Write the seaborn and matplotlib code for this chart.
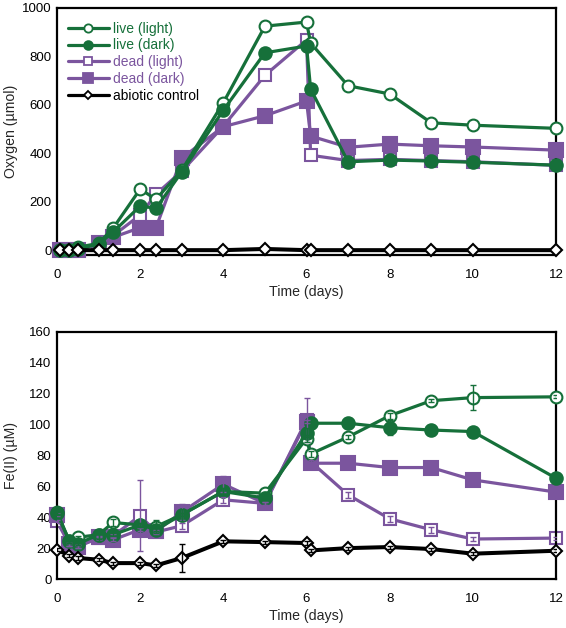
import numpy as np
import pandas as pd
import matplotlib
matplotlib.use("Agg")
import matplotlib.pyplot as plt
import seaborn as sns
from matplotlib.lines import Line2D

# ---------------- data ----------------
t_oxy = [0.07, 0.3, 0.5, 1, 1.35, 2, 2.38, 3, 4, 5, 6, 6.1, 7, 8, 9, 10, 12]
live_light_oxy = [0, 2, 12, 28, 91, 252, 210, 330, 609, 925, 942, 855, 679, 645, 526, 516, 503]
live_dark_oxy = [0, 0, 5, 25, 75, 182, 173, 323, 578, 815, 843, 665, 365, 372, 368, 363, 351]
dead_light_oxy = [0, 0, 0, 28, 60, 145, 231, 326, 512, 722, 868, 392, 370, 375, 370, 365, 350]
dead_dark_oxy = [0, 0, 0, 28, 53, 93, 93, 380, 510, 555, 616, 471, 425, 438, 431, 426, 413]
abiotic_oxy = [0, 0, 0, 0, 0, 0, 0, 0, 0, 5, 0, 0, 0, 0, 0, 0, 0]

t_fe = [0, 0.3, 0.5, 1, 1.35, 2, 2.38, 3, 4, 5, 6, 6.1, 7, 8, 9, 10, 12]
live_light_fe = [43.3, 24.4, 27, 28.7, 36.6, 35, 34, 41.6, 56.7, 55.6, 91, 81, 92, 105.8, 115.5, 117.5, 118]
live_dark_fe = [42.7, 24.4, 22.8, 28.7, 28.7, 35, 32, 41.6, 56.7, 52.4, 94.8, 100.9, 100.9, 98, 96.5, 95.5, 65.3]
dead_light_fe = [37.3, 22.2, 21, 26.5, 28, 41, 30.4, 34.5, 51.3, 49, 103, 76, 54.5, 39, 31.9, 25.9, 26.5]
dead_dark_fe = [41.6, 22.6, 21, 27, 25.4, 32, 30.8, 43.3, 61.4, 49, 102, 75, 75, 72.2, 72.2, 64.2, 56.3]
abiotic_fe = [19, 15.1, 13.6, 12.5, 10.3, 10.3, 8.8, 13.6, 24.4, 23.9, 23.3, 18.5, 20, 20.7, 19.4, 16.4, 18.3]

live_light_fe_err = [1, 1, 1, 4, 2, 1, 4, 1, 2, 1, 2, 2, 1, 2, 1, 8, 1]
live_dark_fe_err = [1, 1, 1, 3, 1, 1, 1, 4, 2, 1, 3, 1, 1, 5, 3, 1, 1]
dead_light_fe_err = [1, 1, 1, 1, 1, 23, 1, 2, 2, 1, 14, 1, 2, 2, 2, 1, 1]
dead_dark_fe_err = [1, 1, 1, 1, 1, 1, 1, 5, 5, 1, 1, 1, 1, 1, 1, 1, 1]
abiotic_fe_err = [1, 1, 1, 1, 1, 1, 1, 9, 1, 1, 1, 1, 1, 1, 1, 1, 1]

labels = ["live (light)", "live (dark)", "dead (light)", "dead (dark)", "abiotic control"]

# ---------------- style ----------------
sns.set_style("white")
plt.rcParams["font.family"] = ["Liberation Sans", "DejaVu Sans"]

GREEN = "#16703a"
PURPLE = "#7b559e"
BLACK = "#000000"

styles = {
    "live (light)": dict(color=GREEN, marker="o", mfc="white", ms=8.5),
    "live (dark)": dict(color=GREEN, marker="o", mfc=GREEN, ms=9),
    "dead (light)": dict(color=PURPLE, marker="s", mfc="white", ms=8.5),
    "dead (dark)": dict(color=PURPLE, marker="s", mfc=PURPLE, ms=10),
    "abiotic control": dict(color=BLACK, marker="D", mfc="white", ms=6.5),
}
draw_order = ["dead (light)", "dead (dark)", "live (light)", "live (dark)", "abiotic control"]

fig = plt.figure(figsize=(5.66, 6.28), dpi=100)
ax1 = fig.add_axes([57 / 566, 1 - 255 / 628, (556 - 57) / 566, (255 - 8) / 628])
ax2 = fig.add_axes([57 / 566, 1 - 579 / 628, (556 - 57) / 566, (579 - 332) / 628])


def draw(ax, t, series, errs=None, lw=2.3):
    for i, name in enumerate(draw_order):
        st = styles[name]
        y = series[name]
        df = pd.DataFrame({"t": t, "v": y})
        lwi = lw + (0.6 if name == "abiotic control" else 0)
        sns.lineplot(data=df, x="t", y="v", ax=ax, color=st["color"], linewidth=lwi,
                     marker=st["marker"], markersize=st["ms"], markerfacecolor=st["mfc"],
                     markeredgecolor=st["color"], markeredgewidth=1.5,
                     zorder=2 + i, clip_on=False)
        if errs is not None:
            ax.errorbar(t, y, yerr=errs[name], fmt="none", ecolor=st["color"],
                        elinewidth=1.0, capsize=2.5, capthick=1.0, zorder=10 + i)


oxy = dict(zip(labels, [live_light_oxy, live_dark_oxy, dead_light_oxy, dead_dark_oxy, abiotic_oxy]))
fe = dict(zip(labels, [live_light_fe, live_dark_fe, dead_light_fe, dead_dark_fe, abiotic_fe]))
fe_err = dict(zip(labels, [live_light_fe_err, live_dark_fe_err, dead_light_fe_err,
                           dead_dark_fe_err, abiotic_fe_err]))

draw(ax1, t_oxy, oxy)
draw(ax2, t_fe, fe, fe_err)

for ax in (ax1, ax2):
    ax.set_xlim(0, 12)
    ax.set_xticks(range(0, 13, 2))
    for s in ax.spines.values():
        s.set_color("black")
        s.set_linewidth(1.6)
    ax.tick_params(labelsize=9.5, colors="black")
    ax.tick_params(axis="x", pad=10)
    ax.tick_params(axis="y", pad=4)
    ax.set_xlabel("Time (days)", fontsize=10.2, labelpad=3)
    ax.yaxis.set_label_coords(-0.078, 0.5)

ax1.set_ylim(-20, 1000)
ax1.set_yticks(range(0, 1001, 200))
ax1.tick_params(length=0)
ax1.set_ylabel("Oxygen (µmol)", fontsize=10.2)

ax2.set_ylim(0, 160)
ax2.set_yticks(range(0, 161, 20))
ax2.tick_params(axis="y", length=0)
ax2.tick_params(axis="x", direction="in", length=7, width=1, color="#999999", pad=10)
ax2.set_ylabel("Fe(II) (µM)", fontsize=10.2)

# legend
handles = []
for name in labels:
    st = styles[name]
    handles.append(Line2D([0], [0], color=st["color"], lw=2.3, marker=st["marker"],
                          ms=st["ms"] * 0.7, mfc=st["mfc"], mec=st["color"], mew=1.3))
leg = ax1.legend(handles, labels, loc="upper left", frameon=False, fontsize=10,
                 handlelength=3.0, handletextpad=0.3, labelspacing=0.2,
                 borderaxespad=0.0, bbox_to_anchor=(0.01, 0.967))
for txt, name in zip(leg.get_texts(), labels):
    txt.set_color(styles[name]["color"])

fig.savefig("out.png", dpi=100)
